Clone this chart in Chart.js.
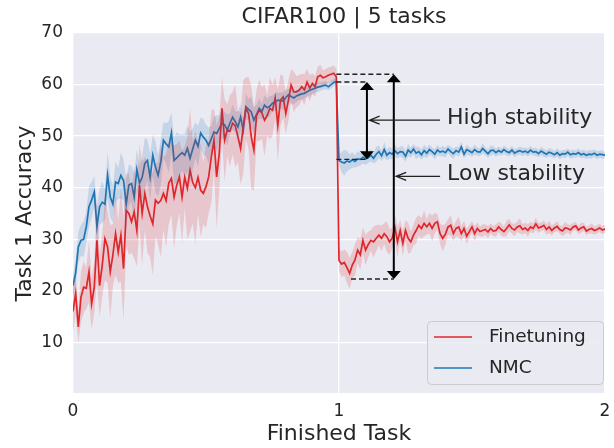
<!DOCTYPE html>
<html>
<head>
<meta charset="utf-8">
<script src="https://cdn.jsdelivr.net/npm/chart.js@4/dist/chart.umd.min.js"></script>
<style>
  html, body { margin: 0; padding: 0; background: #fff; }
  canvas { display: block; }
</style>
</head>
<body>
<canvas id="chart" width="614" height="448"></canvas>
<script>
// ---- data ----
const epochsPerTask = 100;
const taskTicks = [0, 1, 2];
const seriesNames = ["Finetuning", "NMC"];
const chartTitle = "CIFAR100 | 5 tasks";

// accuracy on task 1, task-1 epochs then task-2 epochs
const finetuneAcc = [
  16, 19.5, 13, 18.8, 20.7, 20.5, 23.7, 17.5, 20.7, 29.8,
  21, 25, 30.1, 28.5, 23.7, 27, 31.1, 27.5, 30.8, 24.3,
  35.6, 35, 33.4, 35.3, 31.7, 40.5, 35, 38.9, 36.3, 34.5,
  33, 37.6, 37, 37.5, 38.9, 37.5, 40.9, 41.8, 38.2, 40.5,
  42.1, 38.2, 42, 39.9, 43.4, 41, 40, 42, 39.5, 38.9,
  40.2, 42.1, 46, 49.2, 42.1, 46.7, 55.4, 49.2, 51.2, 51,
  52.5, 52, 49.9, 47.6, 51.8, 55.4, 54.4, 49.9, 47.3, 54,
  55, 54.5, 53.1, 54, 55.4, 55, 57.4, 52.1, 57, 57.6,
  54.4, 57, 59.9, 58.6, 58.6, 58.9, 59.6, 59, 60.5, 59.3,
  60.2, 59.6, 61.5, 61.8, 61.3, 61.5, 61.8, 62, 62.2, 61.5,
  25.9, 25.2, 25.5, 24.5, 23.4, 25, 26, 27.9, 27, 29.8,
  27.9, 29, 29.8, 29.5, 30.2, 30.8, 30.2, 31.1, 30.5, 29.5,
  30.2, 32.4, 29.5, 31.7, 29.2, 31.7, 30.2, 29.5, 30.8, 31.7,
  32.7, 32.1, 33.1, 32.4, 33.1, 32.1, 33.1, 33.4, 31.1, 30.2,
  31, 32.4, 32.7, 31.1, 32.1, 32.4, 31.1, 32.1, 30.6, 31.5,
  32.4, 31.1, 32.1, 31.5, 31.7, 31.9, 31.4, 32.1, 31.6, 31.7,
  32.4, 31.9, 31.5, 32.1, 32.8, 32.1, 31.8, 32.4, 32.6, 31.9,
  32.2, 31.7, 32.4, 32.1, 33, 32.2, 32.4, 32.7, 31.9, 32.4,
  31.7, 32.2, 32.5, 31.9, 31.6, 32.2, 32.1, 31.8, 32.4, 32.6,
  31.8, 32.2, 32.4, 31.6, 31.9, 32.1, 31.7, 31.9, 32.2, 31.8, 32.0
];
const finetuneStd = [
  4, 4, 3, 5, 5, 4, 6, 5, 5, 8,
  6, 6, 8, 7, 9, 6, 8, 6, 9, 10,
  7, 8, 6, 9, 7, 8, 10, 7, 9, 8,
  10, 7, 8, 11, 7, 9, 8, 7, 10, 8,
  7, 9, 6, 10, 12, 8, 11, 7, 9, 6,
  8, 7, 9, 6, 10, 7, 6, 8, 5, 7,
  6, 8, 5, 7, 9, 6, 7, 10, 8, 5,
  6, 5, 7, 4, 6, 5, 4, 7, 5, 4,
  4, 4, 3, 4, 3, 3, 2.5, 3, 2.5, 2.5,
  2, 2, 2, 2, 1.5, 1.5, 1.5, 1.5, 1.5, 1.5,
  2, 2.5, 2.5, 3, 3, 2.5, 3, 2.5, 3, 2.5,
  3, 2.5, 2, 3, 2.5, 2, 2.5, 2, 3, 2.5,
  2, 2.5, 3, 2, 2.5, 2, 3, 2, 2, 2.5,
  2, 2, 2.5, 1.5, 2, 2.5, 2, 1.5, 2, 2.5,
  2, 1.5, 2, 1.5, 1.5, 2, 1.5, 1.5, 1.5, 1.2,
  1.2, 1.5, 1.2, 1, 1.2, 1, 1.2, 1, 1, 1.2,
  1, 1.2, 1, 1.5, 1.2, 1, 1.2, 1, 1.5, 1,
  1, 1.2, 1, 1, 1.2, 1, 0.8, 1, 1, 1.2,
  1, 0.8, 1, 0.8, 1, 1.2, 0.8, 1, 0.8, 0.8,
  0.8, 1, 0.8, 0.8, 0.8, 1, 0.8, 0.8, 0.8, 0.8, 0.8
];
const nmcAcc = [
  21, 23.5, 28.5, 29.8, 30, 32.4, 36.3, 37.6, 39.2, 32.4,
  36.3, 37.2, 36.8, 42.4, 38.2, 36.8, 41.1, 40.8, 42.4, 41.4,
  36.8, 40.5, 40.8, 38.2, 43.5, 40.9, 42, 44.7, 45.3, 42,
  46.3, 44, 42.4, 45, 49.2, 48.5, 47.9, 50.6, 45.3, 45.8,
  46.3, 46.8, 46.3, 47.6, 45.7, 47.5, 49.2, 48, 50.6, 49.8,
  49.2, 48.2, 49.5, 50.8, 50.5, 51.5, 52.5, 52.2, 51.2, 52.5,
  53.7, 52.8, 51.8, 53.7, 51.2, 55.7, 55.2, 54.7, 53.1, 54.2,
  55.4, 54.8, 56, 55.5, 55.8, 56.4, 56.6, 57, 56.9, 56.8,
  57.5, 58, 57.7, 57.4, 57.8, 58, 58.2, 58.3, 58.6, 58.9,
  59.1, 59.3, 59.5, 59.6, 59.8, 59.9, 59.6, 60, 60.4, 60.6,
  45.3, 45, 44.8, 45.2, 45, 45.4, 45.1, 45.6, 45.5, 45.9,
  45.6, 45.8, 46.3, 45.7, 46.5, 47, 46.2, 47.4, 46.3, 46.8,
  46.5, 47.2, 46.6, 47, 46.9, 46.1, 47.3, 46.8, 47.5, 46.7,
  47, 46.4, 47.2, 46.7, 47.4, 47, 46.5, 47.3, 46.9, 47.1,
  46.8, 47.5, 47, 46.6, 47.2, 46.9, 47.9, 46.5, 47.4, 47.1,
  46.8, 47.4, 47, 46.9, 47.6, 47.1, 46.6, 47.2, 47.3, 46.8,
  47.2, 46.9, 47.4, 47, 46.8, 47.3, 46.7, 47, 47.2, 46.9,
  47.1, 46.8, 47.3, 46.9, 47, 46.6, 47.1, 46.8, 46.5, 46.9,
  46.7, 46.4, 46.8, 46.3, 46.6, 46.5, 46.9, 46.4, 46.6, 46.5,
  46.8, 46.4, 46.6, 46.3, 46.5, 46.4, 46.7, 46.3, 46.5, 46.4, 46.3
];
const nmcStd = [
  2, 2.5, 3, 3, 3.5, 3, 4, 3.5, 3, 4,
  3.5, 4, 3, 4.5, 4, 3.5, 4, 3, 4.5, 4,
  5, 4, 3.5, 4.5, 4, 3.5, 4, 5, 4, 4.5,
  4, 5, 4, 4.5, 3.5, 4, 5, 4, 4.5, 5,
  4, 3.5, 4, 4.5, 5, 4, 3.5, 4, 3, 3.5,
  3, 3.5, 2.5, 3, 3.5, 2.5, 3, 2.5, 3, 2,
  2.5, 2, 3, 2.5, 2, 2.5, 2, 3, 2.5, 2,
  2, 1.5, 2, 1.8, 2, 1.5, 1.8, 1.5, 1.5, 1.8,
  1.5, 1.2, 1.5, 1.2, 1.2, 1, 1.2, 1, 1, 1,
  1, 0.8, 1, 0.8, 0.8, 0.8, 0.7, 0.8, 0.7, 0.7,
  1, 2, 2.5, 2, 1.5, 1.5, 1.2, 1.5, 1.2, 1.2,
  1.2, 1, 1.2, 1, 1.5, 1.2, 1, 1.5, 1, 1.2,
  1, 1.2, 1, 1, 1.2, 1, 1.2, 1, 1, 1.2,
  1, 1, 1.2, 1, 1, 0.8, 1, 1, 0.8, 1,
  1, 0.8, 1, 1, 0.8, 1, 1, 0.8, 1, 0.8,
  0.8, 1, 0.8, 0.8, 1, 0.8, 0.8, 1, 0.8, 0.8,
  0.8, 0.7, 0.8, 0.8, 0.7, 0.8, 0.8, 0.7, 0.8, 0.8,
  0.7, 0.8, 0.8, 0.7, 0.8, 0.7, 0.8, 0.8, 0.7, 0.8,
  0.8, 0.7, 0.8, 0.8, 0.7, 0.8, 0.7, 0.8, 0.8, 0.7,
  0.8, 0.7, 0.8, 0.7, 0.8, 0.8, 0.7, 0.8, 0.7, 0.8, 0.7
];

const RED = "#e0262b";
const BLUE = "#1f77b4";
const FONT = "'DejaVu Sans', sans-serif";
const TEXT = "#262626";

function pts(vals) {
  return vals.map((v, i) => ({ x: i / epochsPerTask, y: v }));
}
function band(vals, sd, sign) {
  return vals.map((v, i) => ({ x: i / epochsPerTask, y: v + sign * sd[i] }));
}

/* ---- background + title ---- */
const bgPlugin = {
  id: "bg",
  beforeDraw(chart) {
    const { ctx, chartArea: a } = chart;
    ctx.save();
    ctx.fillStyle = "#eaeaf2";
    ctx.fillRect(a.left, a.top, a.right - a.left, a.bottom - a.top);
    ctx.fillStyle = TEXT;
    ctx.font = "22px " + FONT;
    ctx.textAlign = "center";
    ctx.textBaseline = "middle";
    ctx.fillText(chartTitle, (a.left + a.right) / 2 + 5, a.top - 16);
    ctx.restore();
  }
};

function headFilled(ctx, x, y, dir) {
  // dir -1 = points up, +1 = points down
  ctx.beginPath();
  ctx.moveTo(x, y);
  ctx.lineTo(x - 7, y - dir * 8);
  ctx.lineTo(x + 7, y - dir * 8);
  ctx.closePath();
  ctx.fill();
}

/* ---- annotations and legend ---- */
const notesPlugin = {
  id: "notes",
  afterDatasetsDraw(chart) {
    const { ctx, scales: { x, y } } = chart;
    ctx.save();

    // dashed guides
    ctx.strokeStyle = "#222";
    ctx.lineWidth = 1.4;
    ctx.setLineDash([5, 3]);
    const dashes = [
      [0.99, 1.206, 62.0],
      [0.99, 1.105, 60.5],
      [0.99, 1.105, 45.5],
      [1.045, 1.206, 22.3]
    ];
    dashes.forEach(([x0, x1, v]) => {
      ctx.beginPath();
      ctx.moveTo(x.getPixelForValue(x0), y.getPixelForValue(v));
      ctx.lineTo(x.getPixelForValue(x1), y.getPixelForValue(v));
      ctx.stroke();
    });
    ctx.setLineDash([]);

    // double arrows
    ctx.strokeStyle = "#000";
    ctx.fillStyle = "#000";
    ctx.lineWidth = 2;
    [[1.105, 60.5, 45.5], [1.206, 62.0, 22.3]].forEach(([xv, top, bot]) => {
      const px = x.getPixelForValue(xv);
      const t = y.getPixelForValue(top), b = y.getPixelForValue(bot);
      ctx.beginPath();
      ctx.moveTo(px, t + 6);
      ctx.lineTo(px, b - 6);
      ctx.stroke();
      headFilled(ctx, px, t, -1);
      headFilled(ctx, px, b, 1);
    });

    // labels with arrows
    ctx.lineWidth = 1.3;
    ctx.strokeStyle = "#222";
    ctx.font = "22px " + FONT;
    ctx.fillStyle = TEXT;
    ctx.textBaseline = "middle";
    [["High stability", 1.115, 1.38, 53.1], ["Low stability", 1.215, 1.38, 42.2]].forEach(([txt, tipX, fromX, v]) => {
      const tx = x.getPixelForValue(tipX), fx = x.getPixelForValue(fromX);
      const py = y.getPixelForValue(v);
      ctx.beginPath();
      ctx.moveTo(fx, py);
      ctx.lineTo(tx, py);
      ctx.moveTo(tx + 10, py - 4);
      ctx.lineTo(tx, py);
      ctx.lineTo(tx + 10, py + 4);
      ctx.stroke();
      ctx.fillText(txt, fx + 7, py - 2);
    });

    // legend (lower right, inside axes)
    const a = chart.chartArea;
    const lx = a.right - 178, ly = a.bottom - 73, lw = 176, lh = 63;
    ctx.fillStyle = "rgba(234,234,242,0.85)";
    ctx.strokeStyle = "#cccccc";
    ctx.lineWidth = 1;
    ctx.beginPath();
    ctx.roundRect(lx + 0.5, ly + 0.5, lw, lh, 4);
    ctx.fill();
    ctx.stroke();
    ctx.font = "18.5px " + FONT;
    [RED, BLUE].forEach((c, i) => {
      const yy = ly + 16 + i * 31;
      ctx.strokeStyle = c;
      ctx.lineWidth = 1.7;
      ctx.beginPath();
      ctx.moveTo(lx + 7, yy);
      ctx.lineTo(lx + 45, yy);
      ctx.stroke();
      ctx.fillStyle = TEXT;
      ctx.fillText(seriesNames[i], lx + 62, yy);
    });

    ctx.restore();
  }
};

new Chart(document.getElementById("chart"), {
  type: "line",
  data: {
    datasets: [
      { data: band(finetuneAcc, finetuneStd, -1), borderWidth: 0, pointRadius: 0, fill: false },
      { data: band(finetuneAcc, finetuneStd, 1), borderWidth: 0, pointRadius: 0, fill: "-1", backgroundColor: "rgba(224,38,43,0.18)" },
      { data: band(nmcAcc, nmcStd, -1), borderWidth: 0, pointRadius: 0, fill: false },
      { data: band(nmcAcc, nmcStd, 1), borderWidth: 0, pointRadius: 0, fill: "-1", backgroundColor: "rgba(31,119,180,0.18)" },
      { label: seriesNames[0], data: pts(finetuneAcc), borderColor: RED, borderWidth: 1.7, pointRadius: 0, fill: false },
      { label: seriesNames[1], data: pts(nmcAcc), borderColor: BLUE, borderWidth: 1.7, pointRadius: 0, fill: false }
    ]
  },
  options: {
    responsive: false,
    animation: false,
    layout: { padding: { right: 9, left: 0, top: 33, bottom: 0 } },
    plugins: {
      legend: { display: false },
      tooltip: { enabled: false },
      title: { display: false }
    },
    scales: {
      x: {
        type: "linear",
        min: 0,
        max: 2,
        afterFit(s) { s.height = 54; s.paddingRight = 0; s.paddingLeft = 0; },
        afterBuildTicks(s) { s.ticks = taskTicks.map(v => ({ value: v })); },
        ticks: { color: TEXT, font: { family: FONT, size: 17 }, padding: 7 },
        grid: { color: "#ffffff", lineWidth: 1.3, drawTicks: false },
        border: { display: false },
        title: { display: true, text: "Finished Task", color: TEXT, font: { family: FONT, size: 22 }, padding: { top: 0, bottom: 1 } }
      },
      y: {
        min: 0,
        max: 70,
        afterFit(s) { s.width = 73; },
        ticks: {
          stepSize: 10,
          color: TEXT,
          font: { family: FONT, size: 17 },
          padding: 10,
          callback: v => (v === 0 ? "" : v)
        },
        grid: { color: "#ffffff", lineWidth: 1.3, drawTicks: false },
        border: { display: false },
        title: { display: true, text: "Task 1 Accuracy", color: TEXT, font: { family: FONT, size: 22 }, padding: { top: 12 } }
      }
    }
  },
  plugins: [bgPlugin, notesPlugin]
});
</script>
</body>
</html>
